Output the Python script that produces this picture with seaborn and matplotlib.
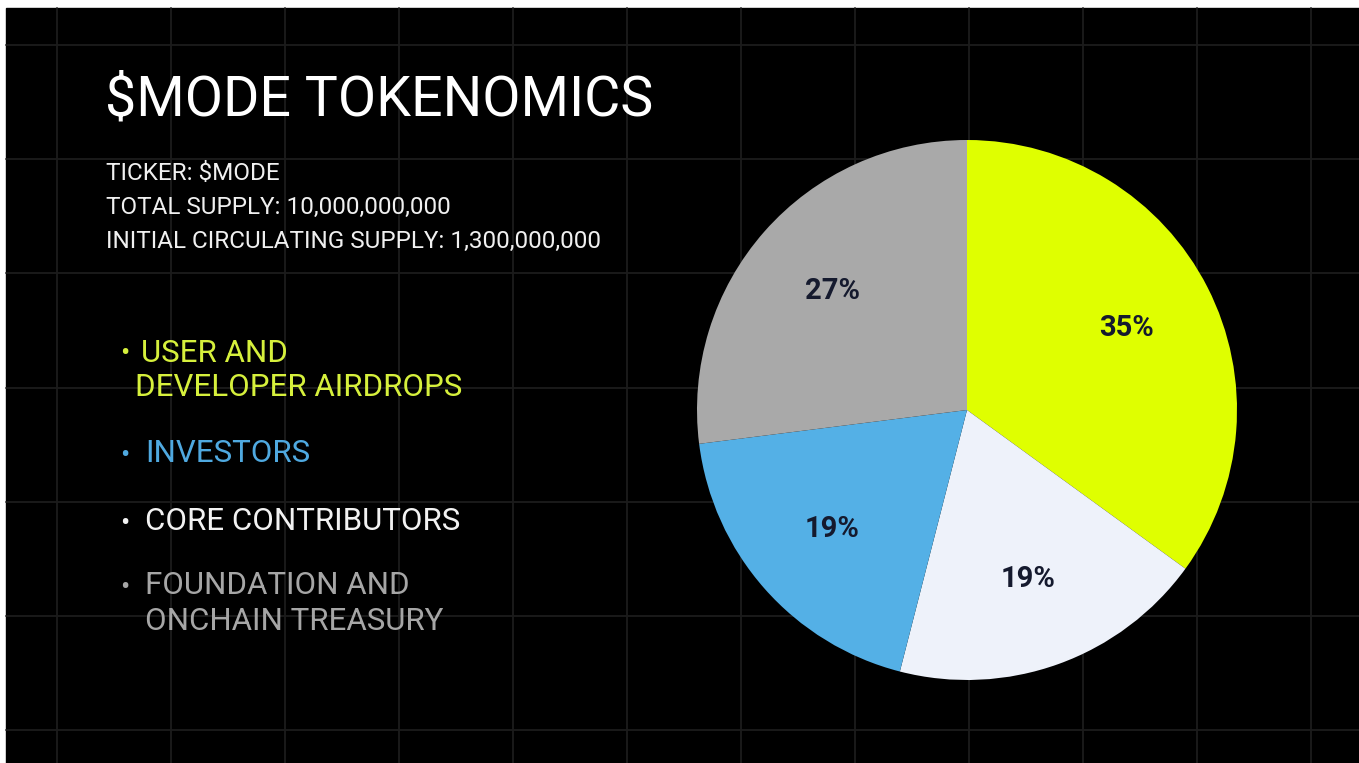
import matplotlib
matplotlib.use("Agg")
import matplotlib.pyplot as plt
from matplotlib.patches import Rectangle
import seaborn as sns
import numpy as np

# Tokenomics data
categories = ["USER AND\nDEVELOPER AIRDROPS", "INVESTORS", "CORE CONTRIBUTORS",
              "FOUNDATION AND\nONCHAIN TREASURY"]
shares = [35, 19, 19, 27]
pie_order = [0, 2, 1, 3]  # white (core) follows yellow clockwise, then blue
slice_colors = ["#dfff00", "#54b0e6", "#eef2fa", "#a9a9a9"]
legend_colors = ["#d6f03c", "#4fa9e0", "#f2f2f2", "#a6a6a6"]
info_lines = ["TICKER: $MODE", "TOTAL SUPPLY: 10,000,000,000",
              "INITIAL CIRCULATING SUPPLY: 1,300,000,000"]
title = "$MODE TOKENOMICS"

sns.set_theme(style="dark")
plt.rcParams['font.family'] = ['Roboto', 'DejaVu Sans']

W, H = 1359, 763
fig = plt.figure(figsize=(W / 100, H / 100), dpi=100, facecolor="white")

# background canvas in pixel coordinates
bg = fig.add_axes([0, 0, 1, 1])
bg.set_xlim(0, W)
bg.set_ylim(H, 0)
bg.axis("off")
bg.add_patch(Rectangle((6, 8), W, H, color="black", zorder=0))
for x in np.arange(57, W, 114):
    bg.plot([x, x], [8, H], color="#1c1c1c", lw=1.3, zorder=1)
for y in np.arange(45, H, 114.2):
    bg.plot([6, W], [y, y], color="#1c1c1c", lw=1.3, zorder=1)

bg.text(105, 100, title, color="white", fontsize=40, va="center", ha="left")
for i, line in enumerate(info_lines):
    bg.text(106, 174 + i * 33.5, line, color="#f0f0f0", fontsize=17.5,
            va="center", ha="left")

# legend-like bullet list
bullet_y = [353, 454, 522, 586]
text_x = [[141, 135], [145], [145], [145, 145]]
for cat, col, yy, xs in zip(categories, legend_colors, bullet_y, text_x):
    bg.text(120, yy + 1, "•", color=col, fontsize=20, va="center", ha="left")
    for k, part in enumerate(cat.split("\n")):
        bg.text(xs[k], yy + k * 35, part, color=col, fontsize=22.5,
                va="center", ha="left")

# pie
cx, cy, r = 967, 410, 270
pax = fig.add_axes([(cx - r) / W, (H - cy - r) / H, 2 * r / W, 2 * r / H])
vals = [shares[i] for i in pie_order]
cols = [slice_colors[i] for i in [0, 2, 1, 3]]
wedges, texts, autotexts = pax.pie(
    vals, colors=cols, startangle=90, counterclock=False,
    autopct=lambda p: f"{p:.0f}%", pctdistance=0.665,
    wedgeprops=dict(linewidth=0), radius=1)
for t in autotexts:
    t.set_color("#151a2e")
    t.set_fontsize(21)
    t.set_fontweight("bold")
pax.set_xlim(-1, 1)
pax.set_ylim(-1, 1)
pax.set_aspect("equal")
pax.axis("off")

fig.savefig("out.png", dpi=100, facecolor=fig.get_facecolor())
